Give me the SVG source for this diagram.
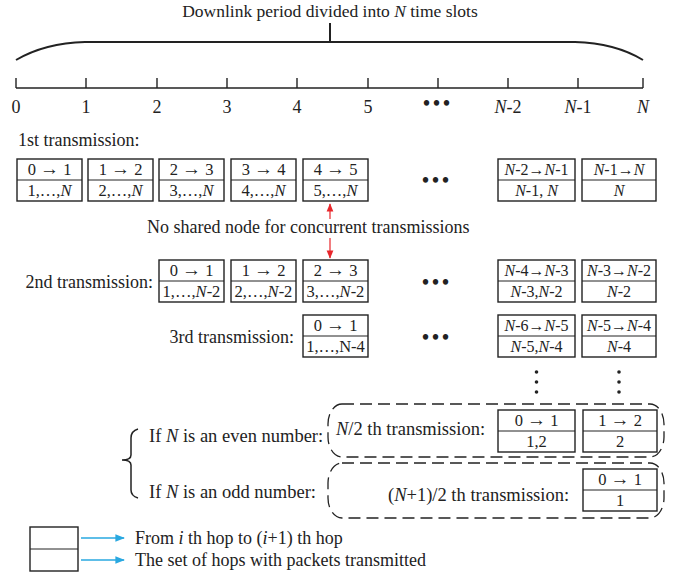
<svg xmlns="http://www.w3.org/2000/svg" width="683" height="576" viewBox="0 0 683 576">
  <style>
    text { font-family: "Liberation Serif", "Times New Roman", serif; fill: #222; }
    .lbl { font-size: 18px; }
    .lbl2 { font-size: 18.5px; }
    .tick { font-size: 18px; text-anchor: middle; }
    .bx { font-size: 16.5px; text-anchor: middle; }
    .bxs { font-size: 16px; text-anchor: middle; }
    .ar { font-size: 19px; }
    .cell { fill: #fff; stroke: #222; stroke-width: 1.4; }
    .div { stroke: #222; stroke-width: 1; }
    .it { font-style: italic; }
    .dash { fill: none; stroke: #222; stroke-width: 1.3; stroke-dasharray: 12 6; }
    .dots { font-size: 20px; text-anchor: middle; font-weight: bold; letter-spacing: 3px; }
  </style>
  <defs>
    <marker id="redHead" viewBox="0 0 10 10" refX="9" refY="5" markerWidth="7" markerHeight="7" orient="auto">
      <path d="M0,1 L10,5 L0,9 z" fill="#e8262b"/>
    </marker>
    <marker id="blueHead" viewBox="0 0 10 10" refX="9" refY="5" markerWidth="7" markerHeight="6" orient="auto">
      <path d="M0,1 L10,5 L0,9 z" fill="#29a8e0"/>
    </marker>
  </defs>

  <!-- time axis with brace -->
  <g id="timeline">
    <text x="330" y="17" font-size="17.5" text-anchor="middle">Downlink period divided into <tspan class="it">N</tspan> time slots</text>
    <path d="M16,60 Q45,43 85,42 L575,42 Q615,43 643,60" fill="none" stroke="#222" stroke-width="2"/>
    <line x1="330" y1="23" x2="330" y2="42" stroke="#222" stroke-width="2"/>
    <line x1="16" y1="88" x2="643" y2="88" stroke="#222" stroke-width="1.6"/>
    <g stroke="#222" stroke-width="1.4">
      <line x1="16" y1="78" x2="16" y2="88"/>
      <line x1="86" y1="78" x2="86" y2="88"/>
      <line x1="157" y1="78" x2="157" y2="88"/>
      <line x1="227" y1="78" x2="227" y2="88"/>
      <line x1="297" y1="78" x2="297" y2="88"/>
      <line x1="368" y1="78" x2="368" y2="88"/>
      <line x1="438" y1="78" x2="438" y2="88"/>
      <line x1="508" y1="78" x2="508" y2="88"/>
      <line x1="578" y1="78" x2="578" y2="88"/>
      <line x1="643" y1="78" x2="643" y2="88"/>
    </g>
    <text class="tick" x="16" y="113">0</text>
    <text class="tick" x="86" y="113">1</text>
    <text class="tick" x="157" y="113">2</text>
    <text class="tick" x="227" y="113">3</text>
    <text class="tick" x="297" y="113">4</text>
    <text class="tick" x="368" y="113">5</text>
    <text class="dots" x="438" y="110">•••</text>
    <text class="tick" x="508" y="113"><tspan class="it">N</tspan>-2</text>
    <text class="tick" x="578" y="113"><tspan class="it">N</tspan>-1</text>
    <text class="tick" x="643" y="113"><tspan class="it">N</tspan></text>
  </g>

  <!-- 1st transmission -->
  <g id="row1">
    <text class="lbl" x="18" y="146">1st transmission:</text>
    <g id="r1c0"><rect class="cell" x="17" y="159" width="65" height="42"/><line class="div" x1="17" y1="180" x2="82" y2="180"/>
      <text class="bx" x="49.5" y="175">0 <tspan class="ar">→</tspan> 1</text><text class="bx" x="49.5" y="196">1,…,<tspan class="it">N</tspan></text></g>
    <g id="r1c1"><rect class="cell" x="88" y="159" width="65" height="42"/><line class="div" x1="88" y1="180" x2="153" y2="180"/>
      <text class="bx" x="120.5" y="175">1 <tspan class="ar">→</tspan> 2</text><text class="bx" x="120.5" y="196">2,…,<tspan class="it">N</tspan></text></g>
    <g id="r1c2"><rect class="cell" x="159" y="159" width="65" height="42"/><line class="div" x1="159" y1="180" x2="224" y2="180"/>
      <text class="bx" x="191.5" y="175">2 <tspan class="ar">→</tspan> 3</text><text class="bx" x="191.5" y="196">3,…,<tspan class="it">N</tspan></text></g>
    <g id="r1c3"><rect class="cell" x="231" y="159" width="65" height="42"/><line class="div" x1="231" y1="180" x2="296" y2="180"/>
      <text class="bx" x="263.5" y="175">3 <tspan class="ar">→</tspan> 4</text><text class="bx" x="263.5" y="196">4,…,<tspan class="it">N</tspan></text></g>
    <g id="r1c4"><rect class="cell" x="303" y="159" width="65" height="42"/><line class="div" x1="303" y1="180" x2="368" y2="180"/>
      <text class="bx" x="335.5" y="175">4 <tspan class="ar">→</tspan> 5</text><text class="bx" x="335.5" y="196">5,…,<tspan class="it">N</tspan></text></g>
    <text class="dots" x="437" y="187">•••</text>
    <g id="r1cA"><rect class="cell" x="498" y="159" width="77" height="42"/><line class="div" x1="498" y1="180" x2="575" y2="180"/>
      <text class="bxs" x="536.5" y="175"><tspan class="it">N</tspan>-2→<tspan class="it">N</tspan>-1</text><text class="bxs" x="536.5" y="196"><tspan class="it">N</tspan>-1, <tspan class="it">N</tspan></text></g>
    <g id="r1cB"><rect class="cell" x="582" y="159" width="74" height="42"/><line class="div" x1="582" y1="180" x2="656" y2="180"/>
      <text class="bxs" x="619" y="175"><tspan class="it">N</tspan>-1→<tspan class="it">N</tspan></text><text class="bxs" x="619" y="196"><tspan class="it">N</tspan></text></g>
  </g>

  <!-- constraint between concurrent transmissions, legend pointers -->
  <g id="connectors">
    <path d="M330,219 V204" stroke="#e8262b" stroke-width="1.2" marker-end="url(#redHead)"/>
    <path d="M330,238 V258" stroke="#e8262b" stroke-width="1.2" marker-end="url(#redHead)"/>
    <path d="M81,538 H124" stroke="#29a8e0" stroke-width="1.6" marker-end="url(#blueHead)"/>
    <path d="M81,560 H124" stroke="#29a8e0" stroke-width="1.6" marker-end="url(#blueHead)"/>
  </g>
  <text class="lbl" x="147" y="233">No shared node for concurrent transmissions</text>

  <!-- 2nd transmission -->
  <g id="row2">
    <text class="lbl" x="153" y="288" text-anchor="end">2nd transmission:</text>
    <g id="r2c2"><rect class="cell" x="159" y="260" width="65" height="42"/><line class="div" x1="159" y1="281" x2="224" y2="281"/>
      <text class="bx" x="191.5" y="276">0 <tspan class="ar">→</tspan> 1</text><text class="bx" x="191.5" y="297">1,…,<tspan class="it">N</tspan>-2</text></g>
    <g id="r2c3"><rect class="cell" x="231" y="260" width="65" height="42"/><line class="div" x1="231" y1="281" x2="296" y2="281"/>
      <text class="bx" x="263.5" y="276">1 <tspan class="ar">→</tspan> 2</text><text class="bx" x="263.5" y="297">2,…,<tspan class="it">N</tspan>-2</text></g>
    <g id="r2c4"><rect class="cell" x="303" y="260" width="65" height="42"/><line class="div" x1="303" y1="281" x2="368" y2="281"/>
      <text class="bx" x="335.5" y="276">2 <tspan class="ar">→</tspan> 3</text><text class="bx" x="335.5" y="297">3,…,<tspan class="it">N</tspan>-2</text></g>
    <text class="dots" x="437" y="289">•••</text>
    <g id="r2cA"><rect class="cell" x="498" y="260" width="77" height="42"/><line class="div" x1="498" y1="281" x2="575" y2="281"/>
      <text class="bxs" x="536.5" y="276"><tspan class="it">N</tspan>-4→<tspan class="it">N</tspan>-3</text><text class="bxs" x="536.5" y="297"><tspan class="it">N</tspan>-3,<tspan class="it">N</tspan>-2</text></g>
    <g id="r2cB"><rect class="cell" x="582" y="260" width="74" height="42"/><line class="div" x1="582" y1="281" x2="656" y2="281"/>
      <text class="bxs" x="619" y="276"><tspan class="it">N</tspan>-3→<tspan class="it">N</tspan>-2</text><text class="bxs" x="619" y="297"><tspan class="it">N</tspan>-2</text></g>
  </g>

  <!-- 3rd transmission -->
  <g id="row3">
    <text class="lbl" x="294" y="343" text-anchor="end">3rd transmission:</text>
    <g id="r3c4"><rect class="cell" x="303" y="315" width="65" height="42"/><line class="div" x1="303" y1="336" x2="368" y2="336"/>
      <text class="bx" x="335.5" y="331">0 <tspan class="ar">→</tspan> 1</text><text class="bx" x="335.5" y="352">1,…,N-4</text></g>
    <text class="dots" x="437" y="344">•••</text>
    <g id="r3cA"><rect class="cell" x="498" y="315" width="77" height="42"/><line class="div" x1="498" y1="336" x2="575" y2="336"/>
      <text class="bxs" x="536.5" y="331"><tspan class="it">N</tspan>-6→<tspan class="it">N</tspan>-5</text><text class="bxs" x="536.5" y="352"><tspan class="it">N</tspan>-5,<tspan class="it">N</tspan>-4</text></g>
    <g id="r3cB"><rect class="cell" x="582" y="315" width="74" height="42"/><line class="div" x1="582" y1="336" x2="656" y2="336"/>
      <text class="bxs" x="619" y="331"><tspan class="it">N</tspan>-5→<tspan class="it">N</tspan>-4</text><text class="bxs" x="619" y="352"><tspan class="it">N</tspan>-4</text></g>
  </g>

  <!-- vertical continuation dots -->
  <g id="vdots" fill="#222">
    <circle cx="536.5" cy="372" r="1.8"/><circle cx="536.5" cy="382" r="1.8"/><circle cx="536.5" cy="392" r="1.8"/>
    <circle cx="619" cy="372" r="1.8"/><circle cx="619" cy="382" r="1.8"/><circle cx="619" cy="392" r="1.8"/>
  </g>

  <!-- final transmission, even / odd N -->
  <g id="cases">
    <path d="M138,429 Q131,431 131,438 L131,455 Q131,460 122,460 Q131,460 131,465 L131,490 Q131,496 138,498" fill="none" stroke="#222" stroke-width="1.5"/>
    <text class="lbl2" x="149" y="442">If <tspan class="it">N</tspan> is an even number:</text>
    <text class="lbl2" x="149" y="498">If <tspan class="it">N</tspan> is an odd number:</text>
  </g>
  <g id="evenCase">
    <rect class="dash" x="328" y="404" width="336" height="53" rx="14" ry="20"/>
    <text class="lbl2" x="336" y="435"><tspan class="it">N</tspan>/2 th transmission:</text>
    <g id="evA"><rect class="cell" x="498" y="410" width="77" height="42"/><line class="div" x1="498" y1="431" x2="575" y2="431"/>
      <text class="bx" x="536.5" y="426">0 <tspan class="ar">→</tspan> 1</text><text class="bx" x="536.5" y="447">1,2</text></g>
    <g id="evB"><rect class="cell" x="583" y="410" width="74" height="42"/><line class="div" x1="583" y1="431" x2="657" y2="431"/>
      <text class="bx" x="620" y="426">1 <tspan class="ar">→</tspan> 2</text><text class="bx" x="620" y="447">2</text></g>
  </g>
  <g id="oddCase">
    <rect class="dash" x="328" y="463" width="336" height="55" rx="14" ry="20"/>
    <text class="lbl2" x="388" y="501">(<tspan class="it">N</tspan>+1)/2 th transmission:</text>
    <g id="odB"><rect class="cell" x="583" y="469" width="74" height="42"/><line class="div" x1="583" y1="490" x2="657" y2="490"/>
      <text class="bx" x="620" y="485">0 <tspan class="ar">→</tspan> 1</text><text class="bx" x="620" y="506">1</text></g>
  </g>

  <!-- legend -->
  <g id="legend">
    <rect class="cell" x="30" y="527" width="48" height="44"/>
    <line class="div" x1="30" y1="549" x2="78" y2="549"/>
    <text class="lbl" x="135" y="544">From <tspan class="it">i</tspan> th hop to (<tspan class="it">i</tspan>+1) th hop</text>
    <text class="lbl" x="135" y="566">The set of hops with packets transmitted</text>
  </g>
</svg>
